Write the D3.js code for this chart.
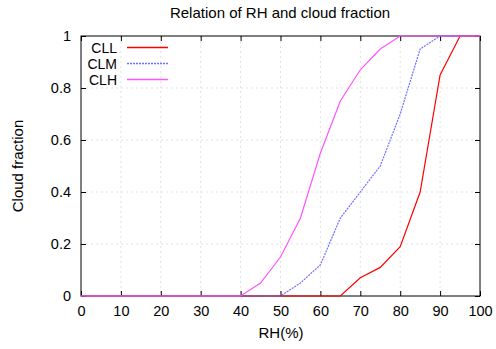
<!DOCTYPE html>
<html>
<head>
<meta charset="utf-8">
<script src="https://cdn.jsdelivr.net/npm/d3@7"></script>
<style>
  body { margin: 0; background: #fff; }
  text { font-family: "Liberation Sans", Arial, sans-serif; fill: #000; }
</style>
</head>
<body>
<div id="chart"></div>
<script>
// RH steps of 5%
const rh = [0, 5, 10, 15, 20, 25, 30, 35, 40, 45, 50, 55, 60, 65, 70, 75, 80, 85, 90, 95, 100];
const cll = [0, 0, 0, 0, 0, 0, 0, 0, 0, 0, 0, 0, 0, 0, 0.07, 0.11, 0.19, 0.4, 0.85, 1, 1];
const clm = [0, 0, 0, 0, 0, 0, 0, 0, 0, 0, 0, 0.05, 0.12, 0.3, 0.4, 0.5, 0.7, 0.95, 1, 1, 1];
const clh = [0, 0, 0, 0, 0, 0, 0, 0, 0, 0.05, 0.15, 0.3, 0.55, 0.75, 0.87, 0.95, 1, 1, 1, 1, 1];
const xTicks = [0, 10, 20, 30, 40, 50, 60, 70, 80, 90, 100];
const yTicks = [0, 0.2, 0.4, 0.6, 0.8, 1];

const series = [
  { name: 'CLL', values: cll, color: '#ff0000', dash: null },
  { name: 'CLM', values: clm, color: '#7070ff', dash: '2,1' },
  { name: 'CLH', values: clh, color: '#ff55ff', dash: null },
];

const W = 496, H = 349;
const mLeft = 81, mRight = 480, mTop = 36, mBottom = 296;

const x = d3.scaleLinear().domain([0, 100]).range([mLeft, mRight]);
const y = d3.scaleLinear().domain([0, 1]).range([mBottom, mTop]);

const svg = d3.select('#chart').append('svg')
  .attr('width', W)
  .attr('height', H);

// grid
svg.append('g')
  .selectAll('line')
  .data(xTicks.slice(1, -1))
  .enter().append('line')
    .attr('x1', d => x(d)).attr('x2', d => x(d))
    .attr('y1', mTop).attr('y2', mBottom)
    .attr('stroke', '#e2e2e2').attr('stroke-dasharray', '2,3');
svg.append('g')
  .selectAll('line')
  .data(yTicks.slice(1, -1))
  .enter().append('line')
    .attr('x1', mLeft).attr('x2', mRight)
    .attr('y1', d => y(d)).attr('y2', d => y(d))
    .attr('stroke', '#e2e2e2').attr('stroke-dasharray', '2,3');

// axes (ticks inward, mirrored)
const fmt = d => d3.format('')(d);
svg.append('g')
  .attr('transform', `translate(0,${mBottom})`)
  .call(d3.axisBottom(x).tickValues(xTicks).tickSize(-5).tickPadding(10).tickFormat(fmt))
  .call(g => g.select('.domain').remove());
svg.append('g')
  .attr('transform', `translate(0,${mTop})`)
  .call(d3.axisTop(x).tickValues(xTicks).tickSize(-5).tickFormat(''))
  .call(g => g.select('.domain').remove());
svg.append('g')
  .attr('transform', `translate(${mLeft},0)`)
  .call(d3.axisLeft(y).tickValues(yTicks).tickSize(-5).tickPadding(10).tickFormat(fmt))
  .call(g => g.select('.domain').remove());
svg.append('g')
  .attr('transform', `translate(${mRight},0)`)
  .call(d3.axisRight(y).tickValues(yTicks).tickSize(-5).tickFormat(''))
  .call(g => g.select('.domain').remove());

svg.selectAll('.tick line').attr('stroke', '#000');
svg.selectAll('.tick text')
  .style('font-family', '"Liberation Sans", Arial, sans-serif')
  .style('font-size', '14.5px');

svg.append('rect')
  .attr('x', mLeft).attr('y', mTop)
  .attr('width', mRight - mLeft).attr('height', mBottom - mTop)
  .attr('fill', 'none').attr('stroke', '#000');

// lines
const line = d3.line()
  .x((d, i) => x(rh[i]))
  .y(d => y(d));

series.forEach(s => {
  svg.append('path')
    .datum(s.values)
    .attr('d', line)
    .attr('fill', 'none')
    .attr('stroke', s.color)
    .attr('stroke-width', 1.2)
    .attr('stroke-dasharray', s.dash);
});

// legend
const legend = svg.append('g');
series.forEach((s, i) => {
  const ly = 47.5 + i * 16;
  legend.append('text')
    .attr('x', 117).attr('y', ly + 5)
    .attr('text-anchor', 'end')
    .style('font-size', '14px')
    .text(s.name);
  legend.append('line')
    .attr('x1', 127).attr('x2', 168)
    .attr('y1', ly).attr('y2', ly)
    .style('stroke', s.color)
    .attr('stroke-width', 1.4)
    .attr('stroke-dasharray', s.dash);
});

// titles
svg.append('text')
  .attr('x', 280).attr('y', 18)
  .attr('text-anchor', 'middle')
  .style('font-size', '15px')
  .text('Relation of RH and cloud fraction');
svg.append('text')
  .attr('x', 281).attr('y', 338)
  .attr('text-anchor', 'middle')
  .style('font-size', '15px')
  .text('RH(%)');
svg.append('text')
  .attr('transform', `translate(23,${(mTop + mBottom) / 2}) rotate(-90)`)
  .attr('text-anchor', 'middle')
  .style('font-size', '15px')
  .text('Cloud fraction');
</script>
</body>
</html>
